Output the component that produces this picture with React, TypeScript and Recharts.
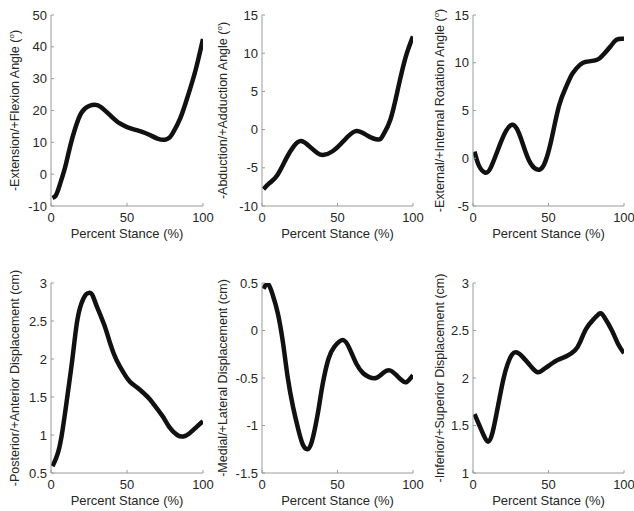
import { LineChart, Line, XAxis, YAxis, Label } from 'recharts';

const stanceTicks = [0, 50, 100];

// knee flexion
const flexionStance = [1, 3, 5, 8, 10, 13, 16, 20, 25, 29, 33, 40, 45, 50, 55, 60, 65, 70, 75, 78, 80, 85, 90, 95, 100];
const flexionAngle = [-7.5, -6.8, -4.5, 0, 3.5, 9.5, 14.5, 19.3, 21.4, 21.8, 21, 18, 16, 14.8, 14, 13.3, 12.3, 11.2, 10.8, 11.5, 12.8, 17.5, 24.5, 32.5, 42.5];
const flexionTicks = [-10, 0, 10, 20, 30, 40, 50];

// abduction / adduction
const adductionStance = [1, 5, 10, 16, 21, 26, 32, 37, 41, 47, 54, 62, 70, 77, 80, 85, 90, 95, 100];
const adductionAngle = [-7.8, -7, -6, -3.8, -2.2, -1.5, -2.3, -3.1, -3.3, -2.8, -1.5, -0.2, -0.8, -1.3, -0.8, 1.3, 5.3, 9.4, 12.2];
const adductionTicks = [-10, -5, 0, 5, 10, 15];

// rotation
const rotationStance = [1, 4, 8, 12, 18, 22, 25.5, 29, 33, 38, 44, 48, 52, 57, 62, 66, 71, 75, 82, 86, 91, 95, 100];
const rotationAngle = [0.7, -0.8, -1.5, -0.9, 1.5, 2.9, 3.5, 3.1, 1.5, -0.5, -1.2, -0.3, 2, 5.5, 7.6, 8.9, 9.8, 10.1, 10.3, 10.8, 11.7, 12.4, 12.5];
const rotationTicks = [-5, 0, 5, 10, 15];

// anterior displacement
const anteriorStance = [1, 4, 7, 10.5, 14, 17, 20, 23, 25, 27, 30, 35, 39, 43, 48, 52, 57, 61, 65, 70, 74, 78, 83, 87, 91, 96, 100];
const anteriorDisp = [0.59, 0.73, 0.99, 1.47, 1.99, 2.47, 2.73, 2.85, 2.87, 2.85, 2.7, 2.45, 2.2, 1.99, 1.81, 1.7, 1.62, 1.55, 1.47, 1.34, 1.23, 1.1, 1.0, 0.98, 1.02, 1.11, 1.18];
const anteriorTicks = [0.5, 1, 1.5, 2, 2.5, 3];

// lateral displacement
const lateralStance = [1, 4, 7, 10.5, 14, 17, 20.5, 24, 27, 30, 33, 37, 40, 44, 48, 53.5, 58, 62.5, 67, 71, 75.5, 80, 84.5, 89, 93, 96, 100];
const lateralDisp = [0.44, 0.49, 0.38, 0.18, -0.14, -0.49, -0.8, -1.04, -1.2, -1.25, -1.17, -0.87, -0.58, -0.3, -0.17, -0.1, -0.19, -0.35, -0.45, -0.49, -0.5, -0.45, -0.42, -0.47, -0.53, -0.54, -0.47];
const lateralTicks = [-1.5, -1, -0.5, 0, 0.5];

// superior displacement
const superiorStance = [1, 4.5, 7, 10, 13, 16.5, 20, 23, 26, 29, 33, 38.5, 43, 47.5, 52, 56, 62, 67.5, 71, 75, 80, 84, 87, 92, 96, 100];
const superiorDisp = [1.62, 1.49, 1.4, 1.33, 1.43, 1.7, 1.98, 2.15, 2.25, 2.27, 2.22, 2.12, 2.06, 2.1, 2.15, 2.19, 2.23, 2.29, 2.38, 2.52, 2.62, 2.68, 2.64, 2.5, 2.36, 2.26];
const superiorTicks = [1, 1.5, 2, 2.5, 3];

const W = 634;
const H = 511;
const cols = [
  { left: 51, right: 203, titleX: 19 },
  { left: 262, right: 413, titleX: 227 },
  { left: 473, right: 624, titleX: 444 },
];
const rows = [
  { top: 15, bottom: 206 },
  { top: 283, bottom: 473 },
];

const boxColor = '#9a9a9a';
const textColor = '#262626';
const font = '"Liberation Sans", Arial, sans-serif';

function YTitle({ text, unit, x, y }: { text: string; unit: string; x: number; y: number }) {
  return (
    <text x={x} y={y} transform={`rotate(-90 ${x} ${y})`} textAnchor="middle" fill={textColor} fontSize={12.5} fontFamily={font}>
      {text} (
      {unit === 'deg' ? (
        <>
          <tspan dy={-5} fontSize={8}>o</tspan>
          <tspan dy={5}>)</tspan>
        </>
      ) : (
        <tspan>{unit})</tspan>
      )}
    </text>
  );
}

function Panel({ stance, values, yTicks, title, unit, col, row }: any) {
  const c = cols[col];
  const r = rows[row];
  const yW = 40;
  const xH = 40;
  const data = stance.map((s: number, i: number) => ({ s, v: values[i] }));
  const domain = [yTicks[0], yTicks[yTicks.length - 1]];
  return (
    <div style={{ position: 'absolute', left: 0, top: 0 }}>
      <LineChart
        width={W}
        height={H}
        data={data}
        margin={{ top: r.top, left: c.left - yW, right: W - c.right, bottom: H - r.bottom - xH }}
        style={{ fontFamily: font }}
      >
        <XAxis
          dataKey="s"
          type="number"
          domain={[0, 100]}
          ticks={stanceTicks}
          height={xH}
          tickSize={-3}
          tickMargin={10}
          tick={{ fill: textColor, fontSize: 13 }}
          axisLine={{ stroke: boxColor }}
          tickLine={{ stroke: boxColor }}
          allowDataOverflow
        >
          <Label
            content={() => (
              <text x={(c.left + c.right) / 2} y={r.bottom + 32} textAnchor="middle" fill={textColor} fontSize={13} fontFamily={font}>
                Percent Stance (%)
              </text>
            )}
          />
        </XAxis>
        <XAxis
          xAxisId="top"
          orientation="top"
          type="number"
          domain={[0, 100]}
          ticks={stanceTicks}
          height={0}
          tick={false}
          tickSize={-3}
          axisLine={{ stroke: boxColor }}
          tickLine={{ stroke: boxColor }}
          allowDataOverflow
        />
        <YAxis
          type="number"
          domain={domain}
          ticks={yTicks}
          width={yW}
          tickSize={-3}
          tickMargin={7}
          tick={{ fill: textColor, fontSize: 13 }}
          axisLine={{ stroke: boxColor }}
          tickLine={{ stroke: boxColor }}
          allowDataOverflow
        >
          <Label content={() => <YTitle text={title} unit={unit} x={c.titleX} y={(r.top + r.bottom) / 2} />} />
        </YAxis>
        <YAxis
          yAxisId="right"
          orientation="right"
          type="number"
          domain={domain}
          ticks={yTicks}
          width={0}
          tick={false}
          tickSize={-3}
          axisLine={{ stroke: boxColor }}
          tickLine={{ stroke: boxColor }}
          allowDataOverflow
        />
        <Line
          dataKey="v"
          type="natural"
          stroke="#111"
          strokeWidth={4.5}
          dot={false}
          isAnimationActive={false}
        />
      </LineChart>
    </div>
  );
}

export default function App() {
  return (
    <div style={{ position: 'absolute', left: 0, top: 0, width: W, height: H, background: '#fff' }}>
      <Panel stance={flexionStance} values={flexionAngle} yTicks={flexionTicks} title="-Extension/+Flexion Angle" unit="deg" col={0} row={0} />
      <Panel stance={adductionStance} values={adductionAngle} yTicks={adductionTicks} title="-Abduction/+Adduction Angle" unit="deg" col={1} row={0} />
      <Panel stance={rotationStance} values={rotationAngle} yTicks={rotationTicks} title="-External/+Internal Rotation Angle" unit="deg" col={2} row={0} />
      <Panel stance={anteriorStance} values={anteriorDisp} yTicks={anteriorTicks} title="-Posterior/+Anterior Displacement" unit="cm" col={0} row={1} />
      <Panel stance={lateralStance} values={lateralDisp} yTicks={lateralTicks} title="-Medial/+Lateral Displacement" unit="cm" col={1} row={1} />
      <Panel stance={superiorStance} values={superiorDisp} yTicks={superiorTicks} title="-Inferior/+Superior Displacement" unit="cm" col={2} row={1} />
    </div>
  );
}
